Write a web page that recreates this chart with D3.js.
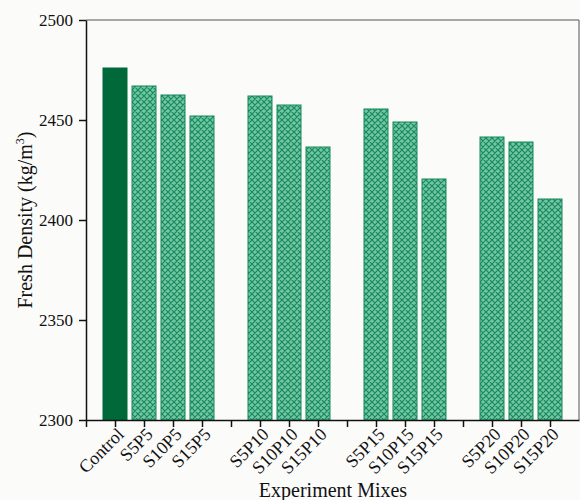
<!DOCTYPE html>
<html>
<head>
<meta charset="utf-8">
<script src="https://cdn.jsdelivr.net/npm/d3@7"></script>
<style>
  html, body { margin: 0; padding: 0; background: #fbfbfa; }
  svg { display: block; }
  svg text { font-family: "Liberation Serif", "Times New Roman", serif; }
</style>
</head>
<body>
<svg id="chart" width="580" height="500"></svg>
<script>
// Mix names in axis order; empty strings leave a gap slot between groups
const mixes = ["", "Control", "S5P5", "S10P5", "S15P5", "",
               "S5P10", "S10P10", "S15P10", "",
               "S5P15", "S10P15", "S15P15", "",
               "S5P20", "S10P20", "S15P20"];
// Fresh density (kg/m³) for each named mix
const densities = [2476, 2467, 2462.5, 2452, 2462, 2457.5, 2436.5,
                   2455.5, 2449, 2420.5, 2441.5, 2439, 2410.5];
const yTicks = [2300, 2350, 2400, 2450, 2500];

const svg = d3.select("#chart");
const margin = { left: 86, right: 1, top: 20, bottom: 80 };
const W = 580, H = 500;

const x = d3.scaleLinear().domain([0, 17]).range([margin.left, W - margin.right]);
const y = d3.scaleLinear().domain([2300, 2500]).range([H - margin.bottom, margin.top]);

// Crosshatch fill used by the replacement mixes
const defs = svg.append("defs");
const pat = defs.append("pattern")
  .attr("id", "hatch").attr("patternUnits", "userSpaceOnUse")
  .attr("width", 6).attr("height", 6);
pat.append("rect").attr("width", 6).attr("height", 6).attr("fill", "#72c6a5");
pat.append("path").attr("d", "M-1,1 l2,-2 M0,6 l6,-6 M5,7 l2,-2 M-1,5 l2,2 M0,0 l6,6 M5,-1 l2,2")
  .attr("stroke", "#178a5b").attr("stroke-width", 1.2);

// Bars
const data = [];
let k = 0;
mixes.forEach((m, i) => { if (m) data.push({ name: m, pos: i, value: densities[k++] }); });
const barW = 24;
svg.append("g").selectAll("rect").data(data).join("rect")
  .attr("x", d => x(d.pos) - barW / 2)
  .attr("width", barW)
  .attr("y", d => y(d.value))
  .attr("height", d => y(2300) - y(d.value))
  .attr("fill", d => d.name === "Control" ? "#00693a" : "url(#hatch)")
  .attr("stroke", d => d.name === "Control" ? "#00693a" : "#17885a")
  .attr("stroke-width", 1);

// Frame: top and right edges
svg.append("path")
  .attr("d", `M${x(0)},${y(2500)} H${x(17)} V${y(2300)}`)
  .attr("fill", "none").attr("stroke", "#555").attr("stroke-width", 1);

// Axes
const xAxis = d3.axisBottom(x).tickValues(d3.range(0, 17)).tickSize(7).tickSizeOuter(0)
  .tickFormat(i => mixes[i]);
const gx = svg.append("g").attr("transform", `translate(0,${y(2300)})`).call(xAxis)
  .attr("font-family", null).attr("font-size", 18);
gx.select(".domain").attr("stroke", "#111").attr("stroke-width", 1.5);
gx.selectAll(".tick line").attr("stroke", "#111").attr("stroke-width", 1.5);
gx.selectAll(".tick text")
  .attr("font-size", 18).attr("fill", "#111")
  .attr("text-anchor", "end")
  .attr("dy", "0.35em")
  .attr("transform", "translate(5,11) rotate(-45)")
  .attr("x", 0).attr("y", 0);

const yAxis = d3.axisLeft(y).tickValues(yTicks).tickSize(7).tickSizeOuter(0).tickFormat(d3.format("d"));
const gy = svg.append("g").attr("transform", `translate(${x(0)},0)`).call(yAxis)
  .attr("font-family", null).attr("font-size", 17);
gy.select(".domain").attr("stroke", "#111").attr("stroke-width", 1.5);
gy.selectAll(".tick text").attr("font-size", 17).attr("fill", "#111").attr("x", -13);
gy.selectAll(".tick line").attr("stroke", "#111").attr("stroke-width", 1.5);

// Axis titles
svg.append("text")
  .attr("x", 333).attr("y", 497)
  .attr("text-anchor", "middle").attr("font-size", 20).attr("fill", "#111")
  .text("Experiment Mixes");

const yl = svg.append("text")
  .attr("transform", `translate(32,${y(2400)}) rotate(-90)`)
  .attr("text-anchor", "middle").attr("font-size", 20).attr("fill", "#111");
yl.append("tspan").text("Fresh Density (kg/m");
yl.append("tspan").attr("font-size", 12).attr("dy", -8).text("3");
yl.append("tspan").attr("dy", 8).text(")");
</script>
</body>
</html>
